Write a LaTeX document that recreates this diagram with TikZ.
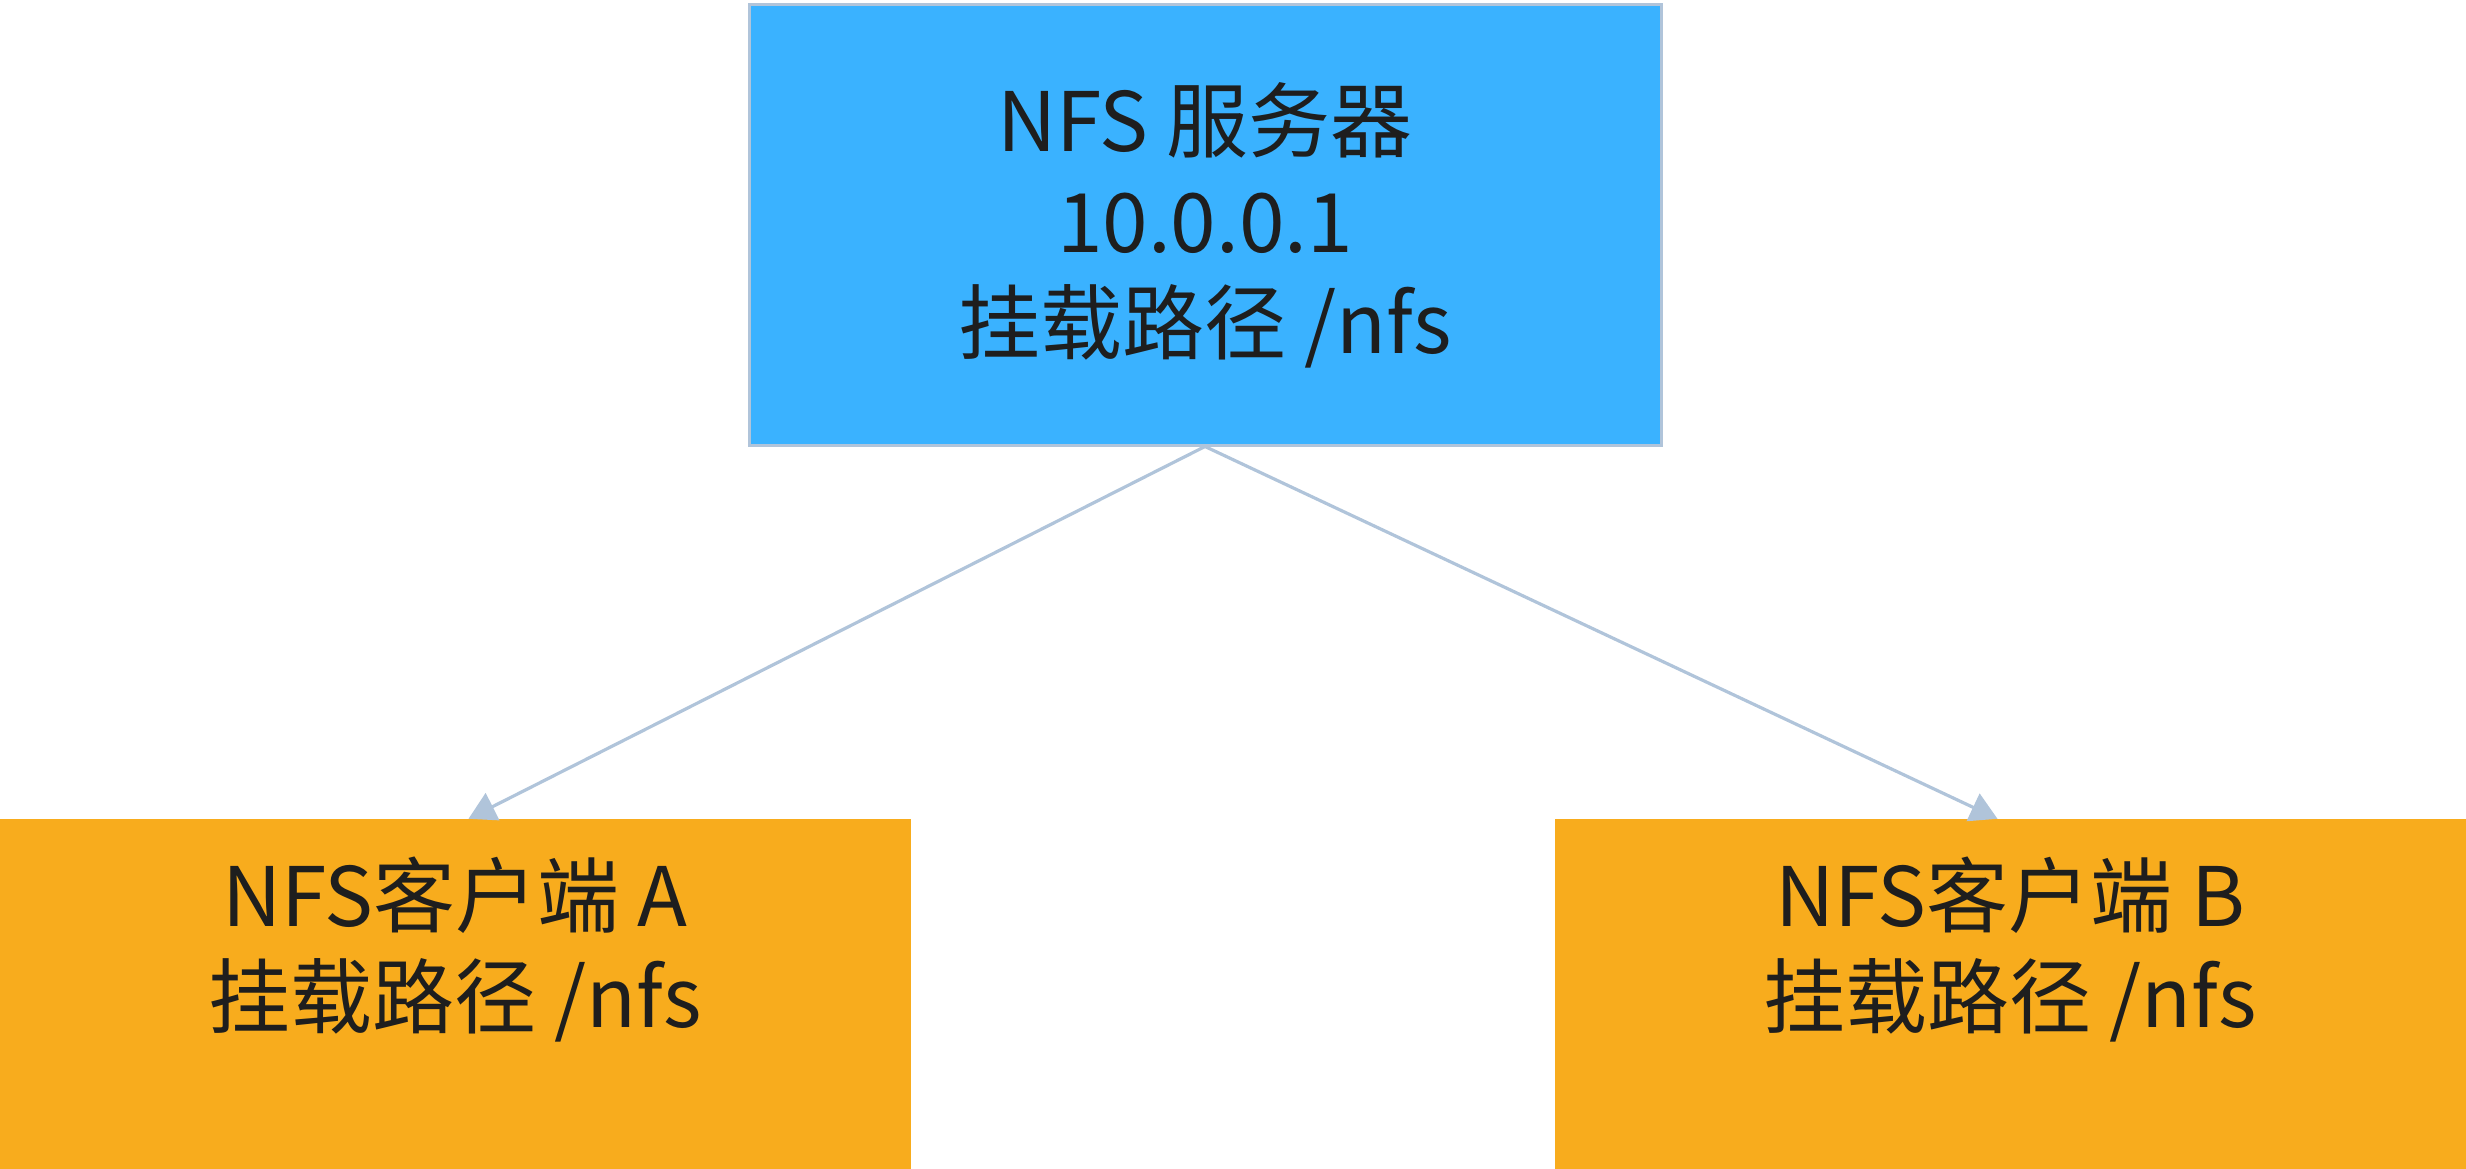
\documentclass[tikz,border=0pt]{standalone}
\usepackage{fontspec}
\setmainfont{Noto Sans CJK SC}
\usetikzlibrary{arrows.meta}
\definecolor{srvblue}{RGB}{58,178,255}
\definecolor{cliorange}{RGB}{248,172,29}
\definecolor{edgegray}{RGB}{176,196,218}
\definecolor{txt}{RGB}{30,30,30}
\begin{document}
\begin{tikzpicture}[x=1pt,y=-1pt,
  server/.style={draw=edgegray,line width=3pt,fill=srvblue,minimum width=912pt,minimum height=440pt,inner sep=0pt,
    align=center,text=txt,font=\fontsize{82}{101}\selectfont},
  client/.style={fill=cliorange,minimum width=911pt,minimum height=350pt,inner sep=0pt},
  clabel/.style={align=center,text=txt,font=\fontsize{82}{101}\selectfont},
  conn/.style={draw=edgegray,line width=3.2pt,-{Triangle[width=30pt,length=27pt]}}]
\useasboundingbox (0,0) rectangle (2466,1169);
\node[server] (top) at (1205,225) {NFS 服务器\\10.0.0.1\\挂载路径 /nfs};
\node[client] (cA) at (455.5,994) {};
\node[client] (cB) at (2010.5,994) {};
\node[clabel] (lA) at (455,950) {NFS客户端 A\\挂载路径 /nfs};
\node[clabel] (lB) at (2010,950) {NFS客户端 B\\挂载路径 /nfs};
\draw[conn] (top.south) -- ([xshift=13pt]cA.north);
\draw[conn] (top.south) -- ([xshift=-13pt]cB.north);
\end{tikzpicture}
\end{document}
